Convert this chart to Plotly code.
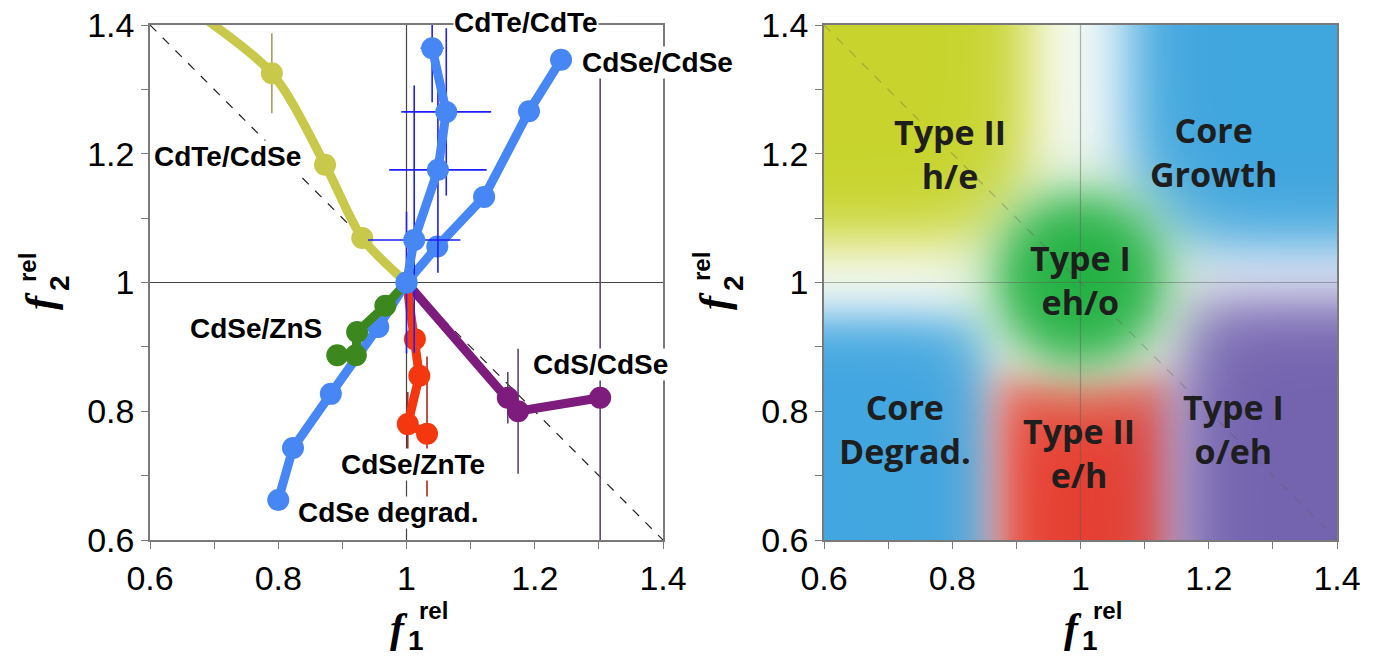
import numpy as np
import plotly.graph_objects as go

# ---------------- data (f1_rel, f2_rel) ----------------
cdte_cdse_x = [1.0, 0.931, 0.873, 0.790, 0.62]
cdte_cdse_y = [1.0, 1.069, 1.183, 1.325, 1.455]
cdte_cdse_ey = [0, 0, 0, 0.062, 0]

cdte_cdte_x = [1.0, 1.012, 1.049, 1.062, 1.040]
cdte_cdte_y = [1.0, 1.066, 1.175, 1.265, 1.364]
cdte_cdte_ex = [0, 0.072, 0.076, 0.070, 0.018]
cdte_cdte_ey_plus = [0.11, 0.24, 0.16, 0.13, 0.084]
cdte_cdte_ey_minus = [0.11, 0.175, 0.16, 0.13, 0.084]

cdse_cdse_x = [1.0, 1.048, 1.121, 1.191, 1.241]
cdse_cdse_y = [1.0, 1.056, 1.133, 1.266, 1.346]

cdse_degrad_x = [1.0, 0.956, 0.882, 0.823, 0.800]
cdse_degrad_y = [1.0, 0.931, 0.827, 0.743, 0.662]

cdse_zns_x = [1.0, 0.967, 0.923, 0.921, 0.892]
cdse_zns_y = [1.0, 0.964, 0.923, 0.887, 0.887]

cdse_znte_x = [1.0, 1.013, 1.020, 1.002, 1.032]
cdse_znte_y = [1.0, 0.912, 0.855, 0.780, 0.765]
cdse_znte_ey = [0, 0, 0, 0.05, 0.12]

cds_cdse_x = [1.0, 1.158, 1.174, 1.302]
cds_cdse_y = [1.0, 0.821, 0.800, 0.821]
cds_cdse_ey = [0, 0.04, 0.097, 0.50]

tick_vals = [0.6, 0.7, 0.8, 0.9, 1.0, 1.1, 1.2, 1.3, 1.4]
tick_text = ["0.6", "", "0.8", "", "1", "", "1.2", "", "1.4"]
axis_range = [0.6, 1.4]

# regime map (right panel): soft boxes (x0, x1, y0, y1), colours, edge softness
region_boxes = [(0.40, 0.922, 1.06, 1.60),   # Type II h/e
                (1.072, 1.60, 1.052, 1.60),  # Core Growth
                (0.40, 0.862, 0.40, 0.948),  # Core Degrad.
                (0.872, 1.145, 0.40, 0.858), # Type II e/h
                (1.148, 1.60, 0.40, 0.975)]  # Type I o/eh
region_colors = [(200, 212, 45), (64, 166, 222), (66, 166, 224),
                 (230, 64, 50), (116, 100, 176)]
region_soft = [0.028, 0.028, 0.022, 0.021, 0.027]
core_center = (1.0, 1.005)
core_radius = 0.13
core_color = (36, 178, 68)
halo_radius = 0.17
halo_color = (240, 243, 224)

region_labels = ["Type II<br>h/e", "Core<br>Growth", "Type I<br>eh/o",
                 "Core<br>Degrad.", "Type II<br>e/h", "Type I<br>o/eh"]
region_label_x = [0.797, 1.207, 1.0, 0.726, 0.998, 1.238]
region_label_y = [1.200, 1.203, 1.004, 0.772, 0.735, 0.772]

series_labels = ["CdTe/CdTe", "CdSe/CdSe", "CdTe/CdSe", "CdSe/ZnS",
                 "CdS/CdSe", "CdSe/ZnTe", "CdSe degrad."]
series_label_x = [1.187, 1.272, 0.605, 0.661, 1.196, 0.896, 0.829]
series_label_y = [1.3999, 1.341, 1.195, 0.929, 0.872, 0.717, 0.643]
series_label_anchor = ["center", "left", "left", "left", "left", "left", "left"]
series_label_yshift = [3, 0, 0, 0, 0, 0, 0]

# ---------------- styling ----------------
BLUE = "rgb(70,135,245)"
YELLOW = "rgb(200,200,75)"
GREEN = "rgb(60,135,30)"
RED = "rgb(245,55,15)"
PURPLE = "rgb(125,28,125)"
AXIS_GREY = "#7a7a7a"
LW = 9
MS = 22
SANS = "Liberation Sans, Arial, sans-serif"

W, H = 1373, 662
px_x = lambda p: p / W
px_y = lambda p: 1 - p / H
left_dom = [px_x(150), px_x(663)]
right_dom = [px_x(824), px_x(1337)]
y_dom = [px_y(540), px_y(25)]

fig = go.Figure()


def msizes(n, skip_last=False):
    s = [0] + [MS] * (n - 1)
    if skip_last:
        s[-1] = 0
    return s


def err(arr, color, plus=None):
    d = dict(type="data", array=arr, color=color, thickness=1.6, width=0, visible=True)
    if plus is not None:
        d["array"] = plus
        d["arrayminus"] = arr
        d["symmetric"] = False
    return d


def marker(color, sizes):
    return dict(color=color, size=sizes, opacity=1, line=dict(width=0))


# CdTe/CdSe (smooth curve)
fig.add_trace(go.Scatter(
    x=cdte_cdse_x, y=cdte_cdse_y, mode="lines+markers",
    line=dict(color=YELLOW, width=LW, shape="spline", smoothing=0.8),
    marker=marker(YELLOW, msizes(len(cdte_cdse_x), True)),
    error_y=err(cdte_cdse_ey, "rgb(165,160,95)"),
    xaxis="x", yaxis="y", showlegend=False))

# CdS/CdSe
fig.add_trace(go.Scatter(
    x=cds_cdse_x, y=cds_cdse_y, mode="lines+markers",
    line=dict(color=PURPLE, width=LW),
    marker=marker(PURPLE, msizes(len(cds_cdse_x))),
    error_y=err(cds_cdse_ey, "rgb(95,70,110)"),
    xaxis="x", yaxis="y", showlegend=False))

# CdSe/ZnTe
fig.add_trace(go.Scatter(
    x=cdse_znte_x, y=cdse_znte_y, mode="lines+markers",
    line=dict(color=RED, width=LW),
    marker=marker(RED, msizes(len(cdse_znte_x))),
    error_y=err(cdse_znte_ey, "rgb(175,40,30)"),
    xaxis="x", yaxis="y", showlegend=False))

# CdSe degradation
fig.add_trace(go.Scatter(
    x=cdse_degrad_x, y=cdse_degrad_y, mode="lines+markers",
    line=dict(color=BLUE, width=LW),
    marker=marker(BLUE, msizes(len(cdse_degrad_x))),
    xaxis="x", yaxis="y", showlegend=False))

# CdSe/ZnS
fig.add_trace(go.Scatter(
    x=cdse_zns_x, y=cdse_zns_y, mode="lines+markers",
    line=dict(color=GREEN, width=LW),
    marker=marker(GREEN, msizes(len(cdse_zns_x))),
    xaxis="x", yaxis="y", showlegend=False))

# CdSe/CdSe
fig.add_trace(go.Scatter(
    x=cdse_cdse_x, y=cdse_cdse_y, mode="lines+markers",
    line=dict(color=BLUE, width=LW),
    marker=marker(BLUE, MS),
    xaxis="x", yaxis="y", showlegend=False))

# CdTe/CdTe
fig.add_trace(go.Scatter(
    x=cdte_cdte_x, y=cdte_cdte_y, mode="lines+markers",
    line=dict(color=BLUE, width=LW),
    marker=marker(BLUE, MS),
    error_x=err(cdte_cdte_ex, "rgb(30,30,255)"),
    error_y=err(cdte_cdte_ey_minus, "rgb(30,30,255)", plus=cdte_cdte_ey_plus),
    xaxis="x", yaxis="y", showlegend=False))

# ---------------- regime map ----------------
N = 260
step = (axis_range[1] - axis_range[0]) / N
centers = axis_range[0] + step * (np.arange(N) + 0.5)
GX, GY = np.meshgrid(centers, centers)


def sig(t):
    return 1.0 / (1.0 + np.exp(-t))


canvas = np.full((N, N, 3), 255.0)
for (x0, x1, y0, y1), col, s in zip(region_boxes, region_colors, region_soft):
    a = sig((GX - x0) / s) * sig((x1 - GX) / s) * sig((GY - y0) / s) * sig((y1 - GY) / s)
    canvas = canvas * (1 - a[..., None]) + np.array(col) * a[..., None]

R = np.hypot(GX - core_center[0], GY - core_center[1])
a_halo = 0.6 * sig((halo_radius - R) / 0.03)
canvas = canvas * (1 - a_halo[..., None]) + np.array(halo_color) * a_halo[..., None]
a_core = sig((core_radius - R) / 0.024)
canvas = canvas * (1 - a_core[..., None]) + np.array(core_color) * a_core[..., None]

fig.add_trace(go.Image(
    z=np.clip(canvas, 0, 255).astype(np.uint8), x0=centers[0], dx=step,
    y0=centers[0], dy=step, xaxis="x2", yaxis="y2", zsmooth="fast",
    hoverinfo="skip"))

# ---------------- axes ----------------
axis_common = dict(
    range=axis_range, autorange=False, tickmode="array", tickvals=tick_vals, ticktext=tick_text,
    ticks="outside", ticklen=7, tickwidth=1.3, tickcolor=AXIS_GREY,
    showline=True, linecolor=AXIS_GREY, linewidth=1.5, mirror=True,
    showgrid=False, zeroline=False, automargin=False,
    tickfont=dict(family=SANS, size=34, color="black"))

fig.update_layout(
    width=W, height=H, margin=dict(l=0, r=0, t=0, b=0, autoexpand=False),
    paper_bgcolor="white", plot_bgcolor="white",
    xaxis=dict(domain=left_dom, anchor="y", **axis_common),
    yaxis=dict(domain=y_dom, anchor="x", **axis_common),
    xaxis2=dict(domain=right_dom, anchor="y2", constrain="range", **axis_common),
    yaxis2=dict(domain=y_dom, anchor="x2", scaleanchor=False, constrain="range", **axis_common),
)

# reference lines: f1 = 1, f2 = 1 and the diagonal f1 + f2 = 2
shapes = []
for xr, yr, lay, col, dcol in [("x", "y", "below", "#444444", "#222222"),
                               ("x2", "y2", "above", "rgba(90,90,90,0.45)", "rgba(90,90,90,0.35)")]:
    shapes.append(dict(type="line", xref=xr, yref=yr, x0=1, x1=1, y0=axis_range[0], y1=axis_range[1],
                       line=dict(color=col, width=1.2), layer=lay))
    shapes.append(dict(type="line", xref=xr, yref=yr, x0=axis_range[0], x1=axis_range[1], y0=1, y1=1,
                       line=dict(color=col, width=1.2), layer=lay))
    shapes.append(dict(type="line", xref=xr, yref=yr, x0=axis_range[0], x1=axis_range[1],
                       y0=axis_range[1], y1=axis_range[0],
                       line=dict(color=dcol, width=1.2, dash="dash"), layer=lay))
fig.update_layout(shapes=shapes)

ann = []
for t, x, y, xa, ys in zip(series_labels, series_label_x, series_label_y,
                           series_label_anchor, series_label_yshift):
    ann.append(dict(text="<b>%s</b>" % t, x=x, y=y, xref="x", yref="y", xanchor=xa,
                    yanchor="middle", yshift=ys, showarrow=False, bgcolor="white", borderpad=0,
                    font=dict(family=SANS, size=28, color="black")))
for t, x, y in zip(region_labels, region_label_x, region_label_y):
    ann.append(dict(text="<b>%s</b>" % t, x=x, y=y, xref="x2", yref="y2", xanchor="center",
                    yanchor="middle", showarrow=False,
                    font=dict(family="Open Sans, sans-serif", size=34, color="#1e1e1e")))

# axis titles: f with stacked superscript "rel" and subscript index
SERIF = "Liberation Serif, Times New Roman, serif"
for shift in (0, 674):
    common = dict(xref="paper", yref="paper", xanchor="center", yanchor="middle",
                  showarrow=False, borderpad=0)
    # horizontal axis title
    ann.append(dict(text="<b><i>f</i></b>", x=px_x(399 + shift), y=px_y(628),
                    font=dict(family=SERIF, size=42, color="black"), **common))
    ann.append(dict(text="<b>rel</b>", x=px_x(433 + shift), y=px_y(610),
                    font=dict(family=SANS, size=24, color="black"), **common))
    ann.append(dict(text="<b>1</b>", x=px_x(416 + shift), y=px_y(640),
                    font=dict(family=SANS, size=28, color="black"), **common))
    # vertical axis title
    ann.append(dict(text="<b><i>f</i></b>", x=px_x(40 + shift), y=px_y(301), textangle=-90,
                    font=dict(family=SERIF, size=42, color="black"), **common))
    ann.append(dict(text="<b>rel</b>", x=px_x(28 + shift), y=px_y(267), textangle=-90,
                    font=dict(family=SANS, size=24, color="black"), **common))
    ann.append(dict(text="<b>2</b>", x=px_x(60 + shift), y=px_y(283), textangle=-90,
                    font=dict(family=SANS, size=28, color="black"), **common))
fig.update_layout(annotations=ann)

fig.write_html("out.html")
